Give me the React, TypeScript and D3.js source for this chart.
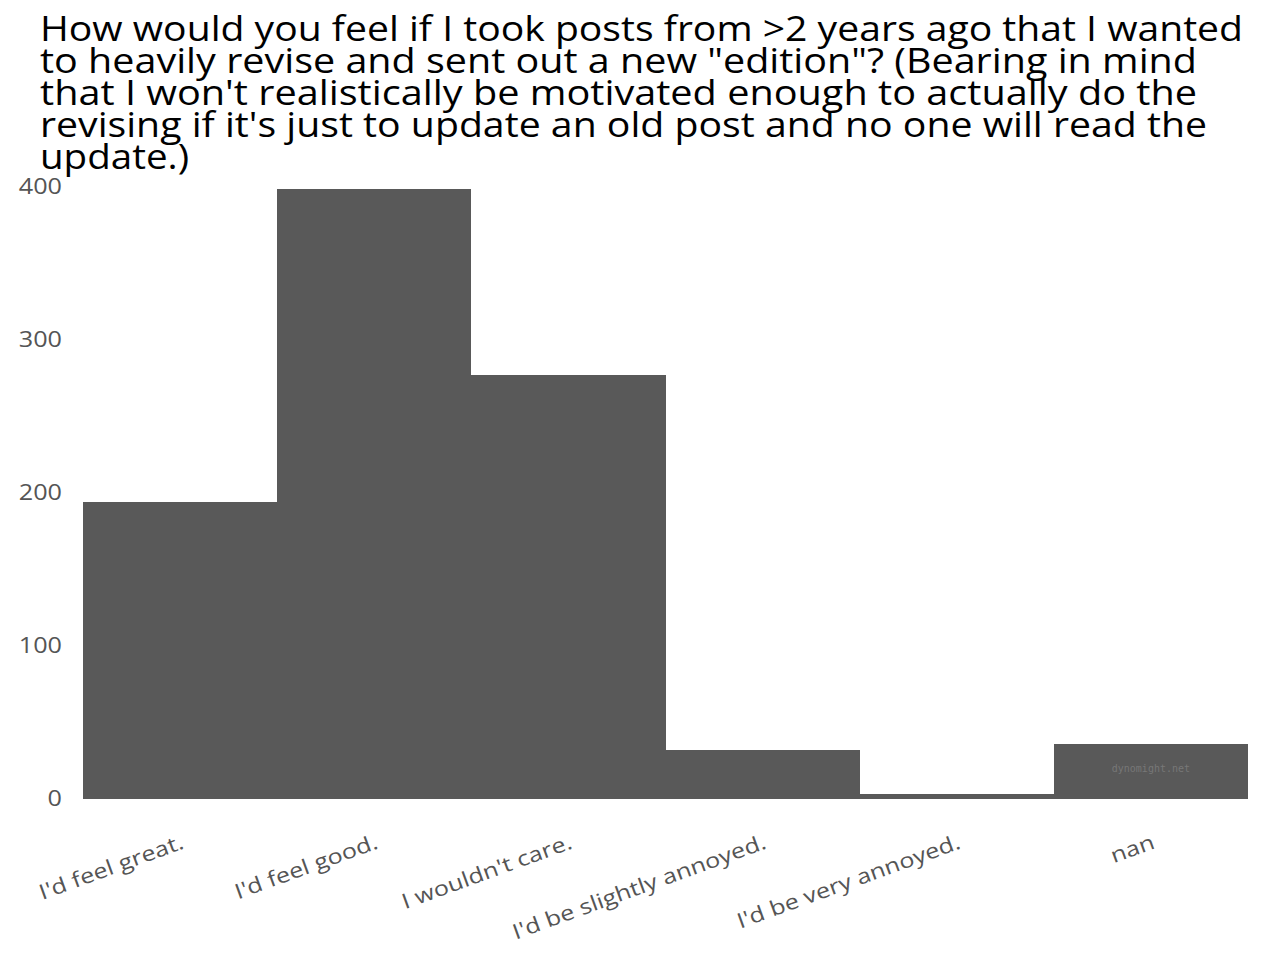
import React, { useEffect, useRef } from 'react';
import * as d3 from 'd3';

const titleLines = [
  'How would you feel if I took posts from >2 years ago that I wanted',
  'to heavily revise and sent out a new "edition"? (Bearing in mind',
  "that I won't realistically be motivated enough to actually do the",
  "revising if it's just to update an old post and no one will read the",
  'update.)',
];
// approximate right end of each title line in the reference
const titleEnds = [1243, 1197, 1197, 1207, 189];

const categories = [
  "I'd feel great.",
  "I'd feel good.",
  "I wouldn't care.",
  "I'd be slightly annoyed.",
  "I'd be very annoyed.",
  'nan',
];
const counts = [194, 399, 277, 32, 3, 36];
const yTicks = [0, 100, 200, 300, 400];

const App = () => {
  const chartRef = useRef<HTMLDivElement>(null);

  useEffect(() => {
    drawChart();
  }, []);

  const drawChart = () => {
    const width = 1280;
    const height = 960;
    const font = "'Open Sans', 'DejaVu Sans', sans-serif";
    // the reference font is wider than Open Sans, stretch labels a bit
    const widen = 1.2;

    d3.select(chartRef.current).select('svg').remove();

    const svg = d3.select(chartRef.current)
      .append('svg')
      .attr('width', width)
      .attr('height', height)
      .style('display', 'block');

    svg.append('rect').attr('width', width).attr('height', height).attr('fill', '#fff');

    const x = d3.scaleBand().domain(categories).range([83, 1248]).padding(0);
    const y = d3.scaleLinear().domain([0, 400]).range([799, 187]);

    // title
    titleLines.forEach((line, i) => {
      svg.append('text')
        .attr('x', 40)
        .attr('y', 41 + i * 32)
        .attr('textLength', titleEnds[i] - 40)
        .attr('lengthAdjust', 'spacingAndGlyphs')
        .style('font-family', font)
        .style('font-size', '35px')
        .style('fill', '#000')
        .text(line);
    });

    // bars
    svg.selectAll('rect.bar')
      .data(categories)
      .enter()
      .append('rect')
      .attr('class', 'bar')
      .attr('x', d => x(d)!)
      .attr('width', x.bandwidth())
      .attr('y', (d, i) => y(counts[i]))
      .attr('height', (d, i) => y(0) - y(counts[i]))
      .attr('shape-rendering', 'crispEdges')
      .style('fill', '#595959');

    const stretch = (sel: d3.Selection<SVGTextElement, unknown, null, undefined>) => {
      const len = (sel.node() as SVGTextElement).getComputedTextLength();
      sel.attr('textLength', len * widen).attr('lengthAdjust', 'spacingAndGlyphs');
    };

    // y tick labels
    yTicks.forEach(t => {
      const txt = svg.append('text')
        .attr('x', 62)
        .attr('y', y(t))
        .attr('dy', '0.35em')
        .attr('text-anchor', 'end')
        .style('font-family', font)
        .style('font-size', '21px')
        .style('fill', '#555')
        .text(t);
      stretch(txt as any);
    });

    // x tick labels, rotated
    categories.forEach(c => {
      const cx = x(c)! + x.bandwidth() / 2 + 5;
      const txt = svg.append('text')
        .attr('transform', `translate(${cx}, 848) rotate(-20)`)
        .attr('text-anchor', 'end')
        .style('font-family', font)
        .style('font-size', '21px')
        .style('fill', '#555')
        .text(c);
      stretch(txt as any);
    });

    // watermark
    const last = categories[categories.length - 1];
    svg.append('text')
      .attr('x', x(last)! + x.bandwidth() / 2)
      .attr('y', 772)
      .attr('text-anchor', 'middle')
      .style('font-family', "'DejaVu Sans Mono', monospace")
      .style('font-size', '10px')
      .style('fill', '#777')
      .text('dynomight.net');
  };

  return <div ref={chartRef} style={{ margin: -8 }}></div>;
};

export default App;
